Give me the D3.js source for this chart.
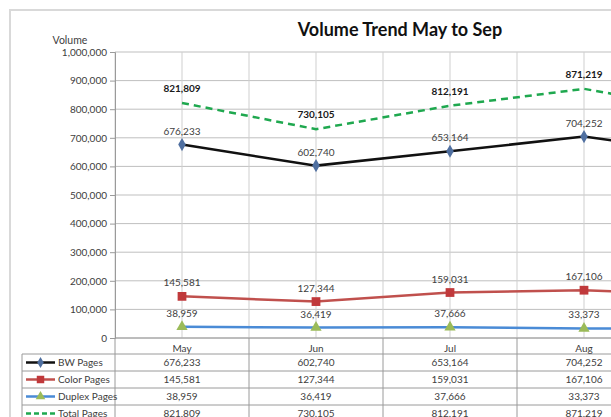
<!DOCTYPE html>
<html>
<head>
<meta charset="utf-8">
<script src="https://cdn.jsdelivr.net/npm/d3@7"></script>
<style>
  html, body { margin: 0; padding: 0; background: #fff; overflow: hidden; }
  #chart { width: 611px; height: 417px; overflow: hidden; }
</style>
</head>
<body>
<div id="chart"></div>
<script>
// chart data
let months = ["May", "Jun", "Jul", "Aug", "Sep"]
let bwPages = [676233, 602740, 653164, 704252, 640000]
let colorPages = [145581, 127344, 159031, 167106, 148000]
let duplexPages = [38959, 36419, 37666, 33373, 32000]
let totalPages = [821809, 730105, 812191, 871219, 788000]
let yTicks = [0, 100000, 200000, 300000, 400000, 500000, 600000, 700000, 800000, 900000, 1000000]

let series = [
  { name: "BW Pages", values: bwPages, color: "#111111", marker: "diamond", markerColor: "#4f6fa0", dash: null, bold: false },
  { name: "Color Pages", values: colorPages, color: "#c0504d", marker: "square", markerColor: "#c0393b", dash: null, bold: false },
  { name: "Duplex Pages", values: duplexPages, color: "#4a8bd6", marker: "triangle", markerColor: "#9bbb59", dash: null, bold: false },
  { name: "Total Pages", values: totalPages, color: "#1fa84f", marker: null, markerColor: null, dash: "7,5", bold: true }
]

let svgWidth = 800,
    svgHeight = 440

let plot = { left: 115, top: 52, bottom: 338, colW: 134 }
let tableTop = 354, rowH = 17, tableLeft = 22

let svg = d3.select("#chart")
  .append("svg")
  .attr("width", svgWidth)
  .attr("height", svgHeight)
  .style("font-family", "Lato, 'Open Sans', sans-serif")

// outer chart border
svg.append("rect")
  .attr("x", 10).attr("y", 10)
  .attr("width", 780).attr("height", 430)
  .attr("fill", "#fff")
  .attr("stroke", "#d9d9d9")
  .attr("stroke-width", 2)

// title
svg.append("text")
  .attr("x", 400).attr("y", 36)
  .attr("text-anchor", "middle")
  .attr("font-size", 18)
  .attr("font-weight", "bold")
  .attr("fill", "#111")
  .text("Volume Trend May to Sep")

let x = d3.scaleBand()
  .domain(months)
  .range([plot.left, plot.left + plot.colW * months.length])
  .padding(0)

let y = d3.scaleLinear()
  .domain([0, 1000000])
  .range([plot.bottom, plot.top])

let cx = m => x(m) + x.bandwidth() / 2
let right = x.range()[1]

// horizontal gridlines
svg.append("g")
  .selectAll("line")
  .data(yTicks)
  .enter()
  .append("line")
  .attr("x1", plot.left).attr("x2", right)
  .attr("y1", d => y(d)).attr("y2", d => y(d))
  .attr("stroke", "#bfbfbf")
  .attr("stroke-width", 1)

// vertical gridlines at boundaries and centres
let vLines = []
months.forEach(m => { vLines.push(x(m)); vLines.push(cx(m)) })
vLines.push(right)
svg.append("g")
  .selectAll("line")
  .data(vLines)
  .enter()
  .append("line")
  .attr("x1", d => d).attr("x2", d => d)
  .attr("y1", plot.top).attr("y2", plot.bottom)
  .attr("stroke", "#cfcfcf")
  .attr("stroke-width", 1)

// y axis
let leftAxis = d3.axisLeft(y)
  .tickValues(yTicks)
  .tickFormat(d3.format(","))
  .tickSize(5)
  .tickPadding(3)

let yAxis = svg.append("g")
  .attr("transform", `translate(${plot.left},0)`)
  .call(leftAxis)
yAxis.select(".domain").attr("stroke", "#9a9a9a")
yAxis.selectAll(".tick line").attr("stroke", "#9a9a9a")
yAxis.selectAll("text")
  .attr("font-size", 10)
  .attr("fill", "#404040")
  .style("font-family", "Lato, 'Open Sans', sans-serif")

svg.append("text")
  .attr("x", 70).attr("y", 44)
  .attr("text-anchor", "middle")
  .attr("font-size", 10.5)
  .attr("fill", "#404040")
  .text("Volume")

// data table
let tableBottom = tableTop + rowH * series.length
let tableG = svg.append("g")

// column separators
tableG.selectAll(".vsep")
  .data(months.map(m => x(m)).concat([right]))
  .enter()
  .append("line")
  .attr("x1", d => d).attr("x2", d => d)
  .attr("y1", plot.bottom).attr("y2", tableBottom)
  .attr("stroke", "#9a9a9a")

tableG.append("line")
  .attr("x1", tableLeft).attr("x2", tableLeft)
  .attr("y1", tableTop).attr("y2", tableBottom)
  .attr("stroke", "#9a9a9a")

// row separators
tableG.selectAll(".hsep")
  .data(d3.range(series.length + 1))
  .enter()
  .append("line")
  .attr("x1", tableLeft).attr("x2", right)
  .attr("y1", i => tableTop + i * rowH).attr("y2", i => tableTop + i * rowH)
  .attr("stroke", "#9a9a9a")

// x axis line
svg.append("line")
  .attr("x1", plot.left).attr("x2", right)
  .attr("y1", plot.bottom).attr("y2", plot.bottom)
  .attr("stroke", "#9a9a9a")

// category labels
svg.append("g")
  .selectAll("text")
  .data(months)
  .enter()
  .append("text")
  .attr("x", d => cx(d))
  .attr("y", plot.bottom + 14)
  .attr("text-anchor", "middle")
  .attr("font-size", 10)
  .attr("fill", "#404040")
  .text(d => d)

function drawMarker(g, type, color, size) {
  if (type === "diamond") {
    g.append("path").attr("d", d3.symbol(d3.symbolDiamond, size * 0.9)()).attr("fill", color)
  } else if (type === "square") {
    g.append("path").attr("d", d3.symbol(d3.symbolSquare, size * 1.4)()).attr("fill", color)
  } else if (type === "triangle") {
    g.append("path").attr("d", d3.symbol(d3.symbolTriangle, size)()).attr("fill", color)
  }
}

let fmt = d3.format(",")

series.forEach((s, si) => {
  let rowY = tableTop + si * rowH + rowH / 2

  // legend key in table
  let key = svg.append("g")
  key.append("line")
    .attr("x1", 26).attr("x2", 55)
    .attr("y1", rowY).attr("y2", rowY)
    .attr("stroke", s.color)
    .attr("stroke-width", 2.5)
    .attr("stroke-dasharray", s.dash ? "5,3" : null)
  if (s.marker) {
    let mg = key.append("g").attr("transform", `translate(40.5,${rowY})`)
    drawMarker(mg, s.marker, s.markerColor, 40)
  }
  svg.append("text")
    .attr("x", 58).attr("y", rowY + 3.5)
    .attr("font-size", 10)
    .attr("fill", "#404040")
    .text(s.name)

  // table values
  svg.append("g")
    .selectAll("text")
    .data(months)
    .enter()
    .append("text")
    .attr("x", d => cx(d))
    .attr("y", rowY + 3.5)
    .attr("text-anchor", "middle")
    .attr("font-size", 10)
    .attr("fill", "#404040")
    .text((d, i) => fmt(s.values[i]))

  // line
  let line = d3.line()
    .x((d, i) => cx(months[i]))
    .y(d => y(d))
  svg.append("path")
    .datum(s.values)
    .attr("d", line)
    .attr("fill", "none")
    .attr("stroke", s.color)
    .attr("stroke-width", 2.5)
    .attr("stroke-dasharray", s.dash)

  // markers
  if (s.marker) {
    s.values.forEach((v, i) => {
      let mg = svg.append("g").attr("transform", `translate(${cx(months[i])},${y(v)})`)
      drawMarker(mg, s.marker, s.markerColor, 55)
    })
  }

  // data labels
  svg.append("g")
    .selectAll("text")
    .data(s.values)
    .enter()
    .append("text")
    .attr("x", (d, i) => cx(months[i]))
    .attr("y", d => y(d) - (s.bold ? 11 : 10))
    .attr("text-anchor", "middle")
    .attr("font-size", 10)
    .attr("font-weight", s.bold ? "bold" : "normal")
    .attr("fill", s.bold ? "#1a1a1a" : "#404040")
    .text(d => fmt(d))
})
</script>
</body>
</html>
